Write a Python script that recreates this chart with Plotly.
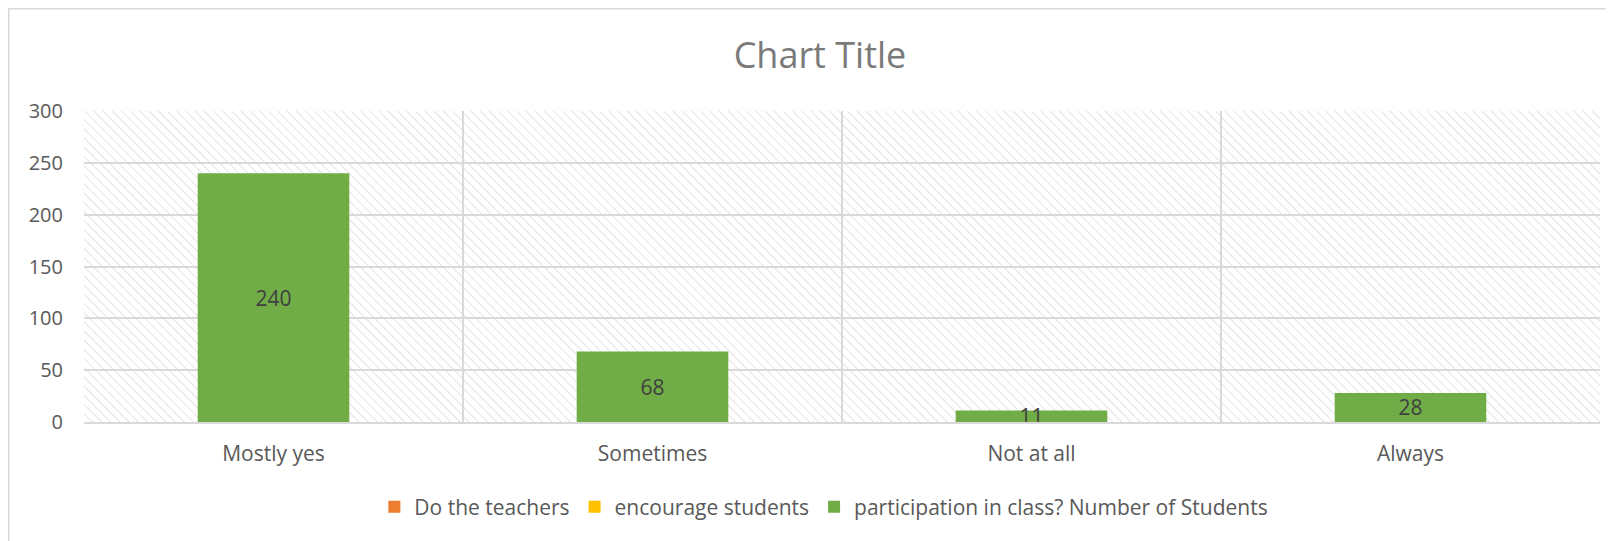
import base64
import plotly.graph_objects as go

# ---- data ----
categories = ["Mostly yes", "Sometimes", "Not at all", "Always"]
series_names = ["Do the teachers", "encourage students", "participation in class? Number of Students"]
series_do_teachers = [None, None, None, None]
series_encourage = [None, None, None, None]
series_participation = [240, 68, 11, 28]
y_ticks = [0, 50, 100, 150, 200, 250, 300]

colors = ["#ED7D31", "#FFC000", "#70AD47"]

# page body has an 8px margin, so the figure is sized to fit the window
W, H = 1606, 533
ML, MR, MT, MB = 76, 14, 103, 119
PW, PH = W - ML - MR, H - MT - MB

FONT = "Open Sans"

fig = go.Figure()
for name, vals, col in zip(series_names, [series_do_teachers, series_encourage, series_participation], colors):
    fig.add_trace(go.Bar(
        x=categories, y=vals, name=name, marker=dict(color=col, line=dict(width=0)),
        text=[("" if v is None else str(v)) for v in vals],
        textposition="inside", insidetextanchor="middle", textangle=0,
        constraintext="none",
        textfont=dict(family=FONT, size=21, color="#404040"),
    ))

# hatched plot-area background
svg = (f'<svg xmlns="http://www.w3.org/2000/svg" width="{PW}" height="{PH}">'
       '<defs><pattern id="p" width="6.5" height="6.5" patternUnits="userSpaceOnUse" patternTransform="rotate(-45)">'
       '<line x1="0" y1="0" x2="0" y2="6.5" stroke="#dcdcdc" stroke-width="1.6"/></pattern></defs>'
       '<rect width="100%" height="100%" fill="white"/><rect width="100%" height="100%" fill="url(#p)"/></svg>')
src = "data:image/svg+xml;base64," + base64.b64encode(svg.encode()).decode()

fig.update_layout(
    width=W, height=H,
    margin=dict(l=ML, r=MR, t=MT, b=MB, pad=0),
    paper_bgcolor="white", plot_bgcolor="white",
    barmode="overlay", bargap=0.6,
    font=dict(family=FONT, color="#595959", size=21),
    title=dict(text="Chart Title", x=0.5056, xref="container", y=1 - 47 / H, yref="container",
               xanchor="center", yanchor="middle",
               font=dict(family=FONT, size=36, color="#7a7a7a")),
    showlegend=True,
    legend=dict(orientation="h", xref="container", yref="container", x=0.508, y=1 - 499 / H,
                xanchor="center", yanchor="middle", itemwidth=30,
                font=dict(family=FONT, size=21, color="#595959"), traceorder="normal"),
    images=[dict(source=src, xref="paper", yref="paper", x=0, y=1, sizex=1, sizey=1,
                 xanchor="left", yanchor="top", sizing="stretch", layer="below")],
    shapes=[dict(type="rect", xref="paper", yref="paper",
                 x0=(0.5 - ML) / PW, x1=(W + 10 - ML) / PW,
                 y0=-(MB + 10) / PH, y1=1 + (MT - 0.5) / PH,
                 line=dict(color="#d9d9d9", width=2), fillcolor="rgba(0,0,0,0)", layer="below")],
)
fig.update_xaxes(
    type="category", tickson="boundaries", showgrid=True, gridcolor="#d9d9d9", gridwidth=1.5,
    ticks="", ticklen=0, ticklabelstandoff=12, showline=True, linecolor="#d9d9d9", linewidth=2,
    tickfont=dict(family=FONT, size=21, color="#595959"), zeroline=False,
)
fig.update_yaxes(
    range=[0, 300], tickvals=y_ticks, showgrid=True, gridcolor="#d9d9d9", gridwidth=1.5,
    ticks="", ticklabelstandoff=20, zeroline=False, showline=False,
    tickfont=dict(family=FONT, size=20, color="#595959"),
)

fig.write_html("out.html")
